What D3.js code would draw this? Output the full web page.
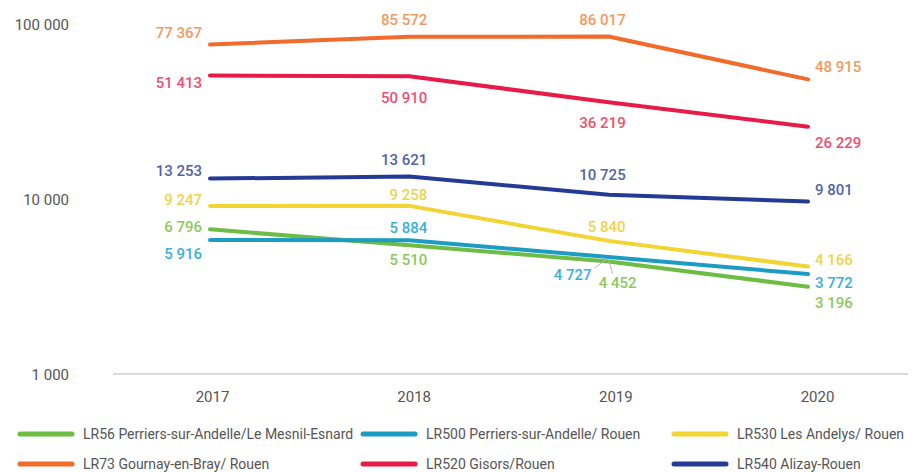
<!DOCTYPE html>
<html>
<head>
<meta charset="utf-8">
<script src="https://cdn.jsdelivr.net/npm/d3@7/dist/d3.min.js"></script>
<style>
  html, body { margin: 0; padding: 0; background: #fff; }
  svg { display: block; }
  text { font-family: Roboto, "DejaVu Sans Condensed", sans-serif; }
</style>
</head>
<body>
<svg id="chart" width="915" height="472"></svg>
<script>
// Yearly ridership per bus line (log scale)
const years = ["2017", "2018", "2019", "2020"];
const yTicks = [1000, 10000, 100000];

const lr56  = [6796, 5510, 4452, 3196];
const lr500 = [5916, 5884, 4727, 3772];
const lr530 = [9247, 9258, 5840, 4166];
const lr73  = [77367, 85572, 86017, 48915];
const lr520 = [51413, 50910, 36219, 26229];
const lr540 = [13253, 13621, 10725, 9801];

const lineNames = [
  "LR56 Perriers-sur-Andelle/Le Mesnil-Esnard",
  "LR500 Perriers-sur-Andelle/ Rouen",
  "LR530 Les Andelys/ Rouen",
  "LR73 Gournay-en-Bray/ Rouen",
  "LR520 Gisors/Rouen",
  "LR540 Alizay-Rouen"
];

// line colour, label colour
const styles = {
  lr56:  { stroke: "#6dbd45", label: "#8cc95c" },
  lr500: { stroke: "#1d9cc3", label: "#3aafdc" },
  lr530: { stroke: "#f2d432", label: "#eed34c" },
  lr73:  { stroke: "#f26b2b", label: "#f4995c" },
  lr520: { stroke: "#e81a48", label: "#ef4f6e" },
  lr540: { stroke: "#233b94", label: "#5462a8" }
};

// label placement per point: [dx, dy, anchor]
const placements = {
  lr56:  [[-8, -2.5, "end"], [18, 14, "end"], [-10, 21.5, "start"], [7, 16, "start"]],
  lr500: [[-8, 14, "end"], [18, -13, "end"], [-17, 18, "end"], [7, 9, "start"]],
  lr530: [[-8, -6, "end"], [18, -11, "end"], [17, -14, "end"], [7, -6.5, "start"]],
  lr73:  [[-8, -11.5, "end"], [18, -17, "end"], [17, -16.5, "end"], [7, -12.5, "start"]],
  lr520: [[-8, 7.5, "end"], [18, 21, "end"], [17, 20, "end"], [7, 15.5, "start"]],
  lr540: [[-8, -7.5, "end"], [18, -16.5, "end"], [17, -20.5, "end"], [7, -11.5, "start"]]
};

const series = [
  { key: "lr56",  name: lineNames[0], values: lr56 },
  { key: "lr500", name: lineNames[1], values: lr500 },
  { key: "lr530", name: lineNames[2], values: lr530 },
  { key: "lr73",  name: lineNames[3], values: lr73 },
  { key: "lr520", name: lineNames[4], values: lr520 },
  { key: "lr540", name: lineNames[5], values: lr540 }
];

const svg = d3.select("#chart");

const x = d3.scalePoint().domain(years).range([210, 808]);
const xLabels = d3.scalePoint().domain(years).range([212, 817]);
const y = d3.scaleLog().domain([1000, 100000]).range([375, 25]);

const fmt = v => d3.format(",")(v).replace(/,/g, " ");

// baseline
svg.append("line")
  .attr("x1", 113).attr("x2", 908)
  .attr("y1", y(1000) - 1).attr("y2", y(1000) - 1)
  .attr("stroke", "#cfcfcf").attr("stroke-width", 1.5);

// y axis labels
const yAxis = d3.axisLeft(y).tickValues(yTicks).tickFormat(fmt).tickSize(0).tickPadding(0);
const gy = svg.append("g").attr("transform", "translate(69,0)").call(yAxis);
gy.select(".domain").remove();
gy.selectAll("text").attr("font-size", 15).attr("fill", "#555")
  .style("font-family", "Roboto, sans-serif");

// x axis labels
const xAxis = d3.axisBottom(xLabels).tickSize(0).tickPadding(0);
const gx = svg.append("g").attr("transform", "translate(0,391)").call(xAxis);
gx.select(".domain").remove();
gx.selectAll("text").attr("font-size", 15).attr("fill", "#555")
  .style("font-family", "Roboto, sans-serif");

// lines
const line = d3.line()
  .x((d, i) => x(years[i]))
  .y(d => y(d));

svg.append("g").selectAll("path")
  .data(series)
  .join("path")
  .attr("d", d => line(d.values))
  .attr("fill", "none")
  .attr("stroke", d => styles[d.key].stroke)
  .attr("stroke-width", 4)
  .attr("stroke-linecap", "round")
  .attr("stroke-linejoin", "round");

// leader lines for the crowded 2019 labels
const leaders = [
  { key: "lr500", i: 2, x1: -14, y1: 11, x2: -2, y2: 2 },
  { key: "lr56",  i: 2, x1: 0, y1: -1, x2: 4, y2: 12 }
];
const byKey = Object.fromEntries(series.map(s => [s.key, s]));
svg.append("g").selectAll("line")
  .data(leaders)
  .join("line")
  .attr("x1", d => x(years[d.i]) + d.x1)
  .attr("y1", d => y(byKey[d.key].values[d.i]) + d.y1)
  .attr("x2", d => x(years[d.i]) + d.x2)
  .attr("y2", d => y(byKey[d.key].values[d.i]) + d.y2)
  .attr("stroke", "#b5b5b5").attr("stroke-width", 1);

// value labels
const labelData = series.flatMap(s => s.values.map((v, i) => ({
  key: s.key, v, i, p: placements[s.key][i]
})));
svg.append("g").selectAll("text")
  .data(labelData)
  .join("text")
  .attr("x", d => x(years[d.i]) + d.p[0])
  .attr("y", d => y(d.v) + d.p[1])
  .attr("dy", "0.36em")
  .attr("text-anchor", d => d.p[2])
  .attr("font-size", 15)
  .attr("font-weight", 500)
  .attr("fill", d => styles[d.key].label)
  .text(d => fmt(d.v));

// legend, two rows of three
const legendCols = [20, 363, 674];
const legendRows = [434, 464];
const lg = svg.append("g").selectAll("g")
  .data(series)
  .join("g")
  .attr("transform", (d, i) => `translate(${legendCols[i % 3]},${legendRows[Math.floor(i / 3)]})`);
lg.append("line")
  .attr("x1", 0).attr("x2", 52)
  .attr("stroke", d => styles[d.key].stroke)
  .attr("stroke-width", 5)
  .attr("stroke-linecap", "round");
lg.append("text")
  .attr("x", 63)
  .attr("dy", "0.36em")
  .attr("font-size", 14)
  .attr("fill", "#555")
  .text(d => d.name);
</script>
</body>
</html>
